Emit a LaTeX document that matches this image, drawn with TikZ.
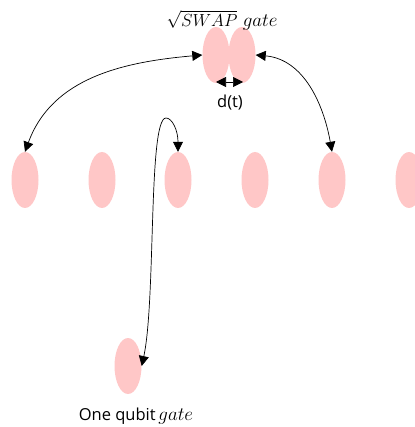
\RequirePackage{fix-cm}
\documentclass[tikz,border=0pt]{standalone}
\usepackage{fontspec}
\setsansfont{Open Sans}
\usetikzlibrary{shapes.geometric,arrows.meta}
\definecolor{qpink}{RGB}{255,199,199}
\begin{document}
\begin{tikzpicture}[x=1pt,y=-1pt,
  qubit/.style={ellipse,fill=qpink,draw=none,minimum width=27pt,minimum height=56pt,inner sep=0pt},
  lbl/.style={font=\sffamily\fontsize{16.5}{19}\selectfont,inner sep=0pt,anchor=base},
  link/.style={{Triangle[length=10pt,width=10pt]}-{Triangle[length=10pt,width=10pt]},line width=0.7pt}]
\useasboundingbox (0,0) rectangle (414,427);
\node[qubit] (q1) at (25,180) {};
\node[qubit] (q2) at (102,180) {};
\node[qubit] (q3) at (178,180) {};
\node[qubit] (q4) at (255,180) {};
\node[qubit] (q5) at (332,180) {};
\node[qubit] (q6) at (409,180) {};
\node[qubit] (t1) at (216,55) {};
\node[qubit] (t2) at (242,55) {};
\node[qubit] (s) at (128,366) {};
\node[lbl,font=\fontsize{17.5}{20}\selectfont] (swaplbl) at (222,26.5) {$\sqrt{SWAP}$\ {\fontsize{19}{21}\selectfont$gate$}};
\node[lbl] (dlbl) at (230,108) {d(t)};
\node[lbl] (onelbl) at (136,420) {One qubit\,{\fontsize{19}{21}\selectfont$gate$}};
\coordinate (da) at (216,82);
\coordinate (db) at (243,82);
\draw[link] (da) -- (db);
\draw[link] (t1.west) to[out=185,in=70] (q1.north);
\draw[link] (t2.east) to[out=-5,in=100] (q5.north);
\coordinate (top) at (166,118);
\draw[link] (s.east) .. controls (156,300) and (148,118) .. (top) .. controls (172,118) and (178,130) .. (q3.north);
\end{tikzpicture}
\end{document}
